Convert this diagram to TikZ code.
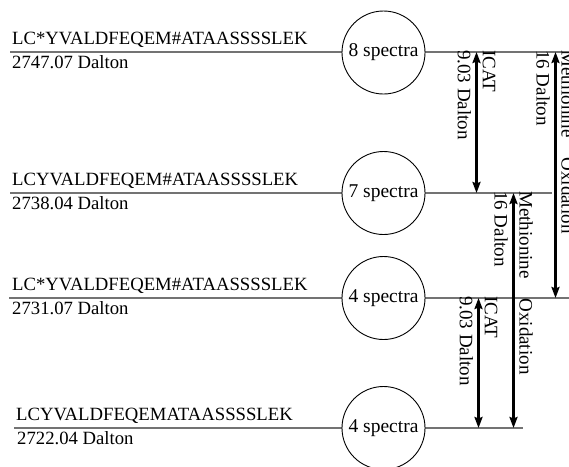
\documentclass[tikz,border=0pt]{standalone}
\usepackage{fontspec}
\setmainfont{Liberation Serif}
\usetikzlibrary{arrows.meta}
\definecolor{levelgray}{RGB}{115,115,115}
\begin{document}
\begin{tikzpicture}[x=1pt,y=-1pt,
  level/.style={draw=levelgray, line width=1.2pt},
  peptide/.style={anchor=base west, inner sep=0pt, font=\fontsize{18.7}{22}\selectfont},
  spectra/.style={circle, draw=black, fill=white, line width=0.9pt,
    minimum size=83pt, inner sep=0pt, font=\fontsize{19.5}{22}\selectfont},
  massshift/.style={draw=black, line width=2.3pt,
    {Stealth[length=11pt,width=8pt,inset=1.5pt]}-{Stealth[length=11pt,width=8pt,inset=1.5pt]}},
  shiftlabel/.style={rotate=-90, anchor=west, align=left, inner sep=0pt,
    font=\fontsize{19}{25}\selectfont}
]
\clip (0,0) rectangle (569,466);

% mass levels
\coordinate (L1w) at (10,52);  \coordinate (L1e) at (569,52);
\coordinate (L2w) at (10,193); \coordinate (L2e) at (552,193);
\coordinate (L3w) at (9,298);  \coordinate (L3e) at (569,298);
\coordinate (L4w) at (14,428); \coordinate (L4e) at (523,428);
\draw[level] (L1w) -- (L1e);
\draw[level] (L2w) -- (L2e);
\draw[level] (L3w) -- (L3e);
\draw[level] (L4w) -- (L4e);

% spectrum counts
\node[spectra] (s1) at (383.5,52.5) {8 spectra};
\node[spectra] (s2) at (383.5,193) {7 spectra};
\node[spectra] (s3) at (383.5,298) {4 spectra};
\node[spectra] (s4) at (383.5,428) {4 spectra};

% peptide sequences and masses
\node[peptide] (p1) at (12,44)  {LC*YVALDFEQEM\#ATAASSSSLEK};
\node[peptide] (m1) at (12,68)  {2747.07 Dalton};
\node[peptide] (p2) at (12,185) {LCYVALDFEQEM\#ATAASSSSLEK};
\node[peptide] (m2) at (12,209) {2738.04 Dalton};
\node[peptide] (p3) at (12,290) {LC*YVALDFEQEM\#ATAASSSSLEK};
\node[peptide] (m3) at (12,314) {2731.07 Dalton};
\node[peptide] (p4) at (16,420) {LCYVALDFEQEMATAASSSSLEK};
\node[peptide] (m4) at (17,444) {2722.04 Dalton};

% arrow end points on the levels
\coordinate (i1a) at (476.5,52);  \coordinate (i1b) at (476.5,193);
\coordinate (o1a) at (555.5,52);  \coordinate (o1b) at (555.5,298);
\coordinate (o2a) at (513.5,193); \coordinate (o2b) at (513.5,428);
\coordinate (i2a) at (478.5,298); \coordinate (i2b) at (478.5,428);

\draw[massshift] (i1a) -- (i1b);
\draw[massshift] (o1a) -- (o1b);
\draw[massshift] (o2a) -- (o2b);
\draw[massshift] (i2a) -- (i2b);

% shift labels
\node[shiftlabel] (li1) at ([yshift=2pt]i1a) {ICAT\\9.03 Dalton};
\node[shiftlabel] (lo1) at ([yshift=2pt]o1a) {Methionine\hspace{15pt} Oxidation\\16 Dalton};
\node[shiftlabel] (lo2) at ([yshift=2pt]o2a) {Methionine\hspace{15pt} Oxidation\\16 Dalton};
\node[shiftlabel] (li2) at ([yshift=2pt]i2a) {ICAT\\9.03 Dalton};
\end{tikzpicture}
\end{document}
